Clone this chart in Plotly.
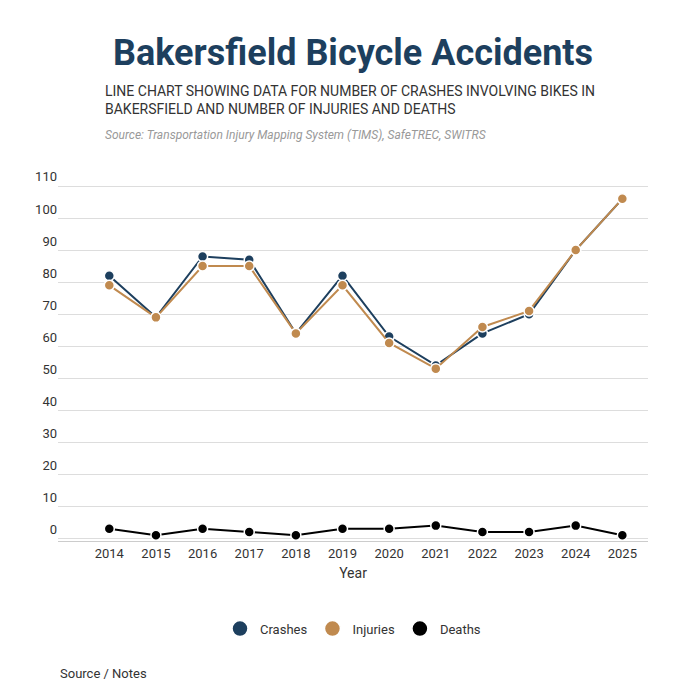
import plotly.graph_objects as go

years = [2014, 2015, 2016, 2017, 2018, 2019, 2020, 2021, 2022, 2023, 2024, 2025]
crashes = [82, 69, 88, 87, 64, 82, 63, 54, 64, 70, 90, 106]
injuries = [79, 69, 85, 85, 64, 79, 61, 53, 66, 71, 90, 106]
deaths = [3, 1, 3, 2, 1, 3, 3, 4, 2, 2, 4, 1]

# Create figure
fig = go.Figure()

# Add traces
for name, values, color in [("Crashes", crashes, "#1d3f5e"),
                            ("Injuries", injuries, "#c08a4f"),
                            ("Deaths", deaths, "#000000")]:
    fig.add_trace(go.Scatter(
        x=years, y=values, name=name, mode="lines+markers", showlegend=False,
        line=dict(color=color, width=2),
        marker=dict(size=10, color=color, line=dict(color="white", width=1.5)),
    ))
    # marker-only legend entry
    fig.add_trace(go.Scatter(
        x=[None], y=[None], name=name, mode="markers",
        marker=dict(size=16, color=color, line=dict(color="white", width=1.5)),
    ))

# Titles and annotations
fig.add_annotation(text="<b>Bakersfield Bicycle Accidents</b>", xref="paper", yref="paper",
                   x=0.5, y=1.0, yshift=148, showarrow=False,
                   font=dict(size=36, color="#1d3f5e"))
fig.add_annotation(text="LINE CHART SHOWING DATA FOR NUMBER OF CRASHES INVOLVING BIKES IN<br>BAKERSFIELD AND NUMBER OF INJURIES AND DEATHS",
                   xref="paper", yref="paper", x=0.076, y=1.0, yshift=54, yanchor="bottom",
                   xanchor="left", align="left", showarrow=False,
                   font=dict(size=14, color="#333333"), height=44)
fig.add_annotation(text="<i>Source: Transportation Injury Mapping System (TIMS), SafeTREC, SWITRS</i>",
                   xref="paper", yref="paper", x=0.076, y=1.0, yshift=34, xanchor="left",
                   yanchor="bottom", showarrow=False, font=dict(size=12, color="#999999"))
fig.add_annotation(text="Source / Notes", xref="paper", yref="paper", x=0.0, y=0, yshift=-132,
                   xanchor="left", yanchor="middle", showarrow=False,
                   font=dict(size=13, color="#333333"))

# Customize the layout
fig.update_layout(
    font=dict(family="Roboto", size=13, color="#333333"),
    plot_bgcolor="white",
    paper_bgcolor="white",
    width=700,
    height=700,
    margin=dict(l=50, r=60, t=170, b=167),
    legend=dict(orientation="h", x=0.5, xanchor="center", y=-0.2, yanchor="top",
                font=dict(size=13)),
)

fig.update_xaxes(title_text="Year", title_font=dict(size=14), title_standoff=8,
                 tickmode="array", tickvals=years, range=[2012.9, 2025.55], showgrid=False,
                 showline=True, linecolor="#cccccc", ticks="")
fig.update_yaxes(range=[-0.8, 112.5], tickvals=list(range(0, 111, 10)), gridcolor="#dddddd",
                 zeroline=False, ticklabelposition="outside top", ticks="")

fig.write_html("out.html")
